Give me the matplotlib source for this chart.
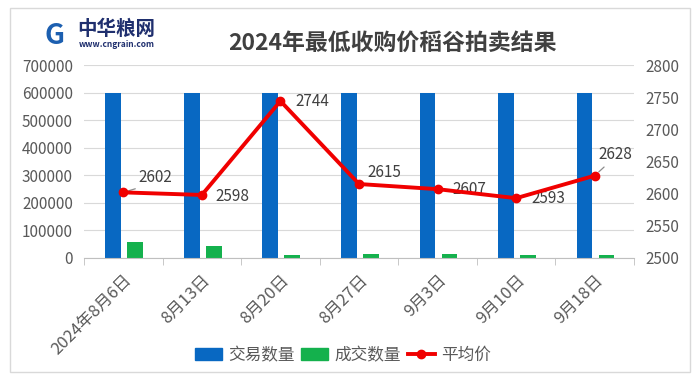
import numpy as np
import matplotlib.pyplot as plt
from matplotlib.patches import Rectangle
from matplotlib.lines import Line2D

plt.rcParams['font.family'] = ['Noto Sans CJK SC', 'DejaVu Sans']

dates = ['2024年8月6日', '8月13日', '8月20日', '8月27日', '9月3日', '9月10日', '9月18日']
offered = [600000, 600000, 600000, 600000, 600000, 600000, 600000]
sold = [59000, 43500, 9800, 13000, 15600, 9800, 12000]
avg_price = [2602, 2598, 2744, 2615, 2607, 2593, 2628]

# label offsets in points (dx, dy) and whether a leader line is drawn
label_offsets = [(11, 11), (10, -1), (11, 0), (6, 8), (11, 0), (11, 0), (3, 15)]
leader = [True, False, False, False, False, False, True]

BLUE = '#0868c2'
GREEN = '#14b14d'
RED = '#f00000'
GRAY = '#595959'

fig = plt.figure(figsize=(7, 3.8), dpi=100)
fig.patches.append(Rectangle((10 / 700, 8 / 380), 680 / 700, 364 / 380, transform=fig.transFigure,
                             fill=False, edgecolor='#d9d9d9', linewidth=1))

ax = fig.add_axes([84 / 700, 1 - 258 / 380, 550 / 700, 193 / 380])
x = np.arange(len(dates))
w = 0.2
ax.bar(x - 0.13, offered, w, color=BLUE, zorder=2)
ax.bar(x + 0.15, sold, w, color=GREEN, zorder=2)
ax.set_xlim(-0.5, len(dates) - 0.5)
ax.set_ylim(0, 700000)
ax.set_yticks(np.arange(0, 700001, 100000))
ax.yaxis.grid(True, color='#d9d9d9', linewidth=0.8)
ax.set_axisbelow(True)
for s in ['top', 'right', 'left']:
    ax.spines[s].set_visible(False)
ax.spines['bottom'].set_color('#bfbfbf')
ax.tick_params(axis='y', length=0, labelsize=11, labelcolor=GRAY, pad=8)
ax.set_xticks(x)
ax.set_xticklabels(dates, rotation=45, ha='right', rotation_mode='anchor', fontsize=12, color=GRAY)
ax.tick_params(axis='x', length=0, pad=10)
ax.set_xticks(np.arange(-0.5, len(dates)), minor=True)
ax.tick_params(axis='x', which='minor', length=5, color='#bfbfbf')

ax2 = ax.twinx()
ax2.plot(x, avg_price, color=RED, linewidth=2.8, marker='o', markersize=6, zorder=3)
ax2.set_ylim(2500, 2800)
ax2.set_yticks(np.arange(2500, 2801, 50))
for s in ['top', 'right', 'left', 'bottom']:
    ax2.spines[s].set_visible(False)
ax2.tick_params(axis='y', length=0, labelsize=11, labelcolor=GRAY, pad=8)

for xi, v, (dx, dy), ld in zip(x, avg_price, label_offsets, leader):
    arrow = None
    if ld:
        arrow = dict(arrowstyle='-', color='#8c8c8c', lw=0.9, shrinkA=1, shrinkB=4,
                     relpos=(0.3, 0.05))
    ax2.annotate(str(v), (xi, v), xytext=(dx, dy), textcoords='offset points',
                 fontsize=11, color='#404040', ha='left', va='center', arrowprops=arrow, zorder=2)

fig.text(0.56, 0.885, '2024年最低收购价稻谷拍卖结果', ha='center', va='center', fontsize=16.5,
         color='#404040', fontweight='bold')
fig.text(0.111, 0.922, '中华粮网', ha='left', va='center', fontsize=14, fontweight='bold', color='#1f2f6e')
fig.text(0.113, 0.882, 'www.cngrain.com', ha='left', va='center', fontsize=6, fontweight='bold', color='#1f2f6e')
fig.text(0.078, 0.905, 'G', ha='center', va='center', fontsize=20, fontweight='bold', color='#1c5fb0')

handles = [Rectangle((0, 0), 1, 1, color=BLUE), Rectangle((0, 0), 1, 1, color=GREEN),
           Line2D([], [], color=RED, linewidth=2.8, marker='o', markersize=6)]
fig.legend(handles, ['交易数量', '成交数量', '平均价'], loc='center', bbox_to_anchor=(0.49, 0.065),
           ncol=3, frameon=False, fontsize=12, handlelength=1.6, columnspacing=0.4, handletextpad=0.4,
           labelcolor=GRAY)

fig.savefig('out.png', dpi=100)
